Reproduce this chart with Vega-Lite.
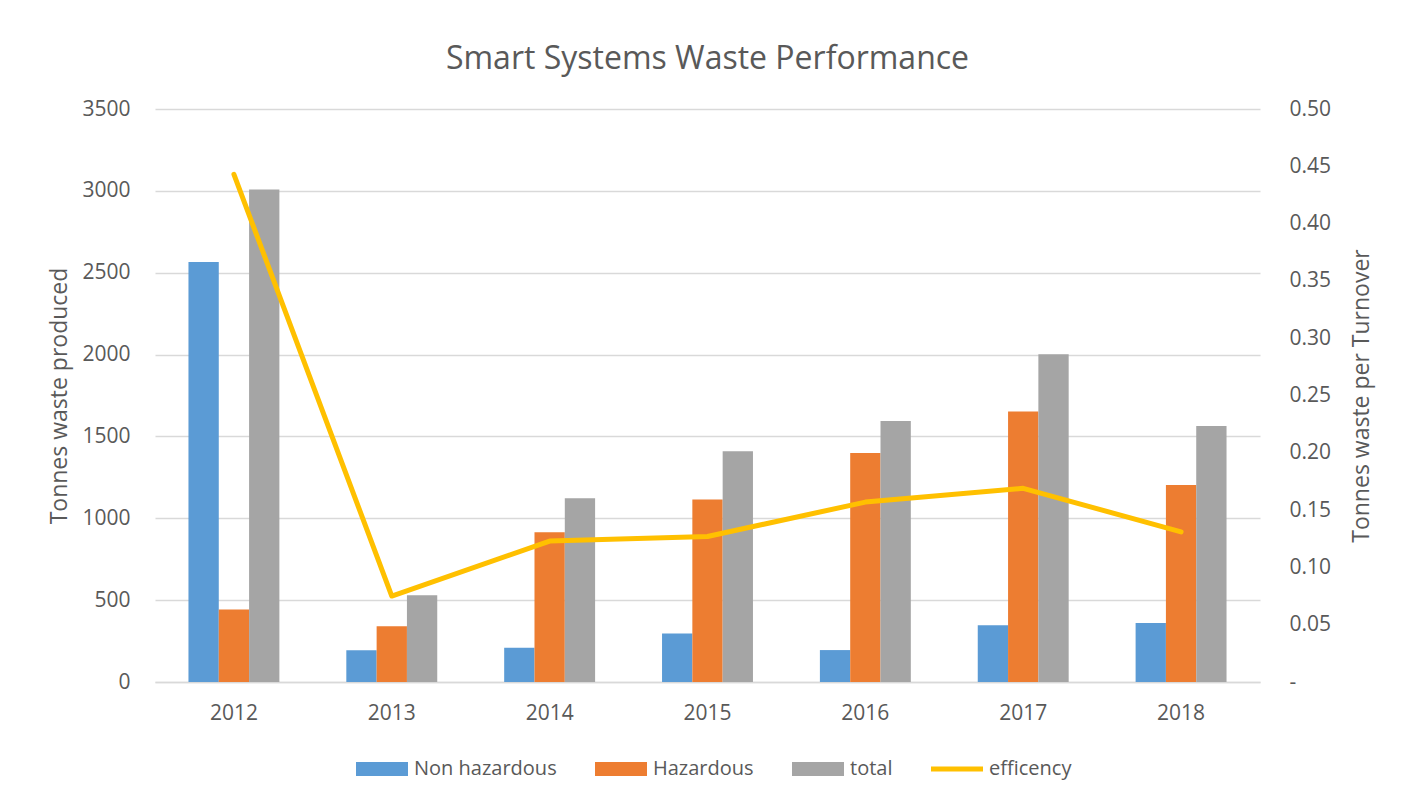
{
  "$schema": "https://vega.github.io/schema/vega-lite/v6.json",
  "width": 1105,
  "height": 573,
  "autosize": {"type": "none"},
  "padding": {"left": 155, "top": 109, "right": 142, "bottom": 116},
  "background": "white",
  "title": {
    "text": "Smart Systems Waste Performance",
    "font": "Open Sans",
    "fontSize": 32,
    "fontWeight": "normal",
    "color": "#595959",
    "anchor": "middle",
    "offset": 22
  },
  "config": {
    "view": {"stroke": null},
    "font": "Open Sans"
  },
  "datasets": {
    "waste": [
      {"year": "2012", "type": "Non hazardous", "tonnes": 2565},
      {"year": "2012", "type": "Hazardous", "tonnes": 443},
      {"year": "2012", "type": "total", "tonnes": 3008},
      {"year": "2013", "type": "Non hazardous", "tonnes": 194},
      {"year": "2013", "type": "Hazardous", "tonnes": 340},
      {"year": "2013", "type": "total", "tonnes": 530},
      {"year": "2014", "type": "Non hazardous", "tonnes": 209},
      {"year": "2014", "type": "Hazardous", "tonnes": 915},
      {"year": "2014", "type": "total", "tonnes": 1123},
      {"year": "2015", "type": "Non hazardous", "tonnes": 296},
      {"year": "2015", "type": "Hazardous", "tonnes": 1115},
      {"year": "2015", "type": "total", "tonnes": 1410},
      {"year": "2016", "type": "Non hazardous", "tonnes": 195},
      {"year": "2016", "type": "Hazardous", "tonnes": 1399},
      {"year": "2016", "type": "total", "tonnes": 1594},
      {"year": "2017", "type": "Non hazardous", "tonnes": 346},
      {"year": "2017", "type": "Hazardous", "tonnes": 1653},
      {"year": "2017", "type": "total", "tonnes": 2002},
      {"year": "2018", "type": "Non hazardous", "tonnes": 360},
      {"year": "2018", "type": "Hazardous", "tonnes": 1204},
      {"year": "2018", "type": "total", "tonnes": 1564}
    ],
    "eff": [
      {"year": "2012", "efficiency": 0.443},
      {"year": "2013", "efficiency": 0.075},
      {"year": "2014", "efficiency": 0.123},
      {"year": "2015", "efficiency": 0.127},
      {"year": "2016", "efficiency": 0.157},
      {"year": "2017", "efficiency": 0.169},
      {"year": "2018", "efficiency": 0.131}
    ]
  },
  "layer": [
    {
      "data": {"name": "waste"},
      "mark": {"type": "bar"},
      "encoding": {
        "x": {
          "field": "year",
          "type": "nominal",
          "scale": {"paddingInner": 0.424, "paddingOuter": 0.212},
          "axis": {
            "title": null,
            "labelAngle": 0,
            "labelFont": "Open Sans",
            "labelFontSize": 21,
            "labelColor": "#595959",
            "labelPadding": 20,
            "ticks": false,
            "domainColor": "#D9D9D9",
            "domainWidth": 1.5
          }
        },
        "xOffset": {
          "field": "type",
          "type": "nominal",
          "sort": ["Non hazardous", "Hazardous", "total"],
          "scale": {"paddingInner": 0, "paddingOuter": 0}
        },
        "y": {
          "field": "tonnes",
          "type": "quantitative",
          "scale": {"domain": [0, 3500], "nice": false},
          "axis": {
            "title": "Tonnes waste produced",
            "values": [0, 500, 1000, 1500, 2000, 2500, 3000, 3500],
            "format": "d",
            "labelFont": "Open Sans",
            "labelFontSize": 21,
            "labelColor": "#595959",
            "labelPadding": 25,
            "ticks": false,
            "domain": false,
            "gridColor": "#D9D9D9",
            "gridWidth": 1.3,
            "titleFont": "Open Sans",
            "titleFontSize": 23,
            "titleFontWeight": "normal",
            "titleColor": "#595959",
            "titlePadding": 10
          }
        },
        "color": {
          "field": "type",
          "type": "nominal",
          "scale": {
            "domain": ["Non hazardous", "Hazardous", "total", "efficency"],
            "range": ["#5B9BD5", "#ED7D31", "#A5A5A5", "#FFC000"]
          },
          "legend": {
            "orient": "none",
            "legendX": 201,
            "legendY": 634,
            "direction": "horizontal",
            "title": null,
            "labelFont": "Open Sans",
            "labelFontSize": 20,
            "labelColor": "#595959",
            "symbolSize": 2704,
            "symbolStrokeWidth": 0,
            "labelOffset": 6,
            "columnPadding": 38,
            "encode": {
              "symbols": {
                "update": {
                  "shape": {"signal": "datum.value === 'efficency' ? 'M-1,-0.1H1V0.1H-1Z' : 'M-1,-0.27H1V0.27H-1Z'"}
                }
              }
            }
          }
        }
      }
    },
    {
      "data": {"name": "eff"},
      "mark": {"type": "line", "color": "#FFC000", "strokeWidth": 5, "strokeCap": "round", "strokeJoin": "round"},
      "encoding": {
        "x": {"field": "year", "type": "nominal"},
        "y": {
          "field": "efficiency",
          "type": "quantitative",
          "scale": {"domain": [0, 0.5], "nice": false},
          "axis": {
            "orient": "right",
            "title": "Tonnes waste per Turnover",
            "values": [0, 0.05, 0.1, 0.15, 0.2, 0.25, 0.3, 0.35, 0.4, 0.45, 0.5],
            "labelExpr": "datum.value === 0 ? '-' : format(datum.value, '.2f')",
            "grid": false,
            "ticks": false,
            "domain": false,
            "labelFont": "Open Sans",
            "labelFontSize": 21,
            "labelColor": "#595959",
            "labelPadding": 29,
            "titleFont": "Open Sans",
            "titleFontSize": 23,
            "titleFontWeight": "normal",
            "titleColor": "#595959",
            "titleAngle": 270,
            "titleBaseline": "top",
            "titlePadding": 20
          }
        }
      }
    }
  ],
  "resolve": {"scale": {"y": "independent"}}
}
